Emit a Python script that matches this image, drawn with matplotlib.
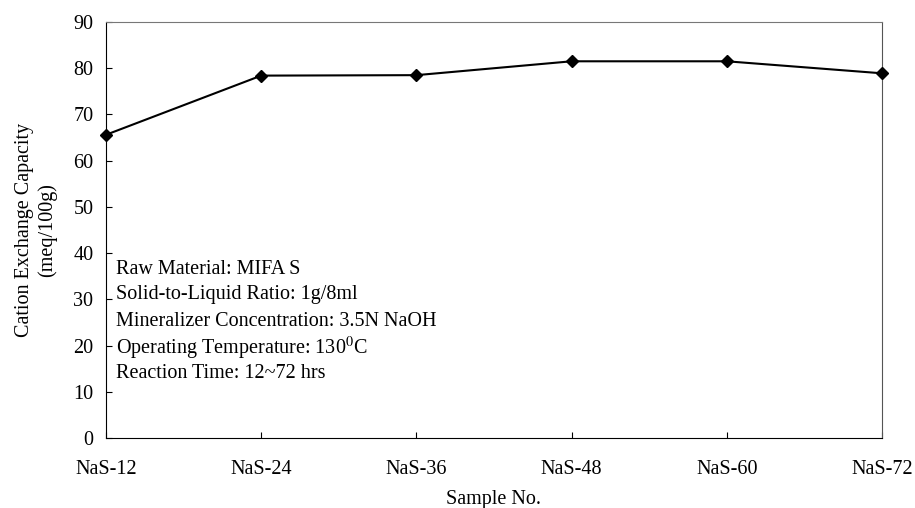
import numpy as np
from matplotlib import pyplot as plt

plt.rcParams['font.family'] = ['Liberation Serif', 'DejaVu Serif']
plt.rcParams['mathtext.fontset'] = 'stix'

samples = ["NaS-12", "NaS-24", "NaS-36", "NaS-48", "NaS-60", "NaS-72"]
cec = [65.6, 78.4, 78.5, 81.5, 81.5, 78.9]

notes = ["Raw Material: MIFA S",
         "Solid-to-Liquid Ratio: 1g/8ml",
         "Mineralizer Concentration: 3.5N NaOH",
         "Operating Temperature: 130$^0$C",
         "Reaction Time: 12~72 hrs"]

fig = plt.figure(figsize=(9.15, 5.08), dpi=100)
ax = fig.add_axes([106/915, 1-438/508, 776/915, 416/508])

x = np.arange(len(samples))
ax.plot(x, cec, color="black", lw=1.5, marker="D", ms=6, clip_on=False, zorder=5)

ax.set_xlim(0, len(samples)-1)
ax.set_ylim(0, 90)
ax.set_yticks(range(0, 91, 10))
ax.set_xticks(x)
ax.set_xticklabels(samples)
ax.tick_params(direction="in", length=4, width=0.8, labelsize=14.5)
ax.tick_params(axis="x", pad=16)
ax.tick_params(axis="y", pad=9)
for s in ax.spines.values():
    s.set_linewidth(0.8)
ax.spines["top"].set_color("#777777")
ax.spines["right"].set_color("#555555")

ax.set_xlabel("Sample No.", fontsize=14.5, labelpad=8)
ax.set_ylabel("Cation Exchange Capacity\n(meq/100g)", fontsize=14.5, labelpad=12)

ys = [0.406, 0.344, 0.281, 0.216, 0.154]
for t, yy in zip(notes, ys):
    ax.text(0.013, yy, t, transform=ax.transAxes, va="center", ha="left", fontsize=14.5)

plt.savefig("out.png", dpi=100)
